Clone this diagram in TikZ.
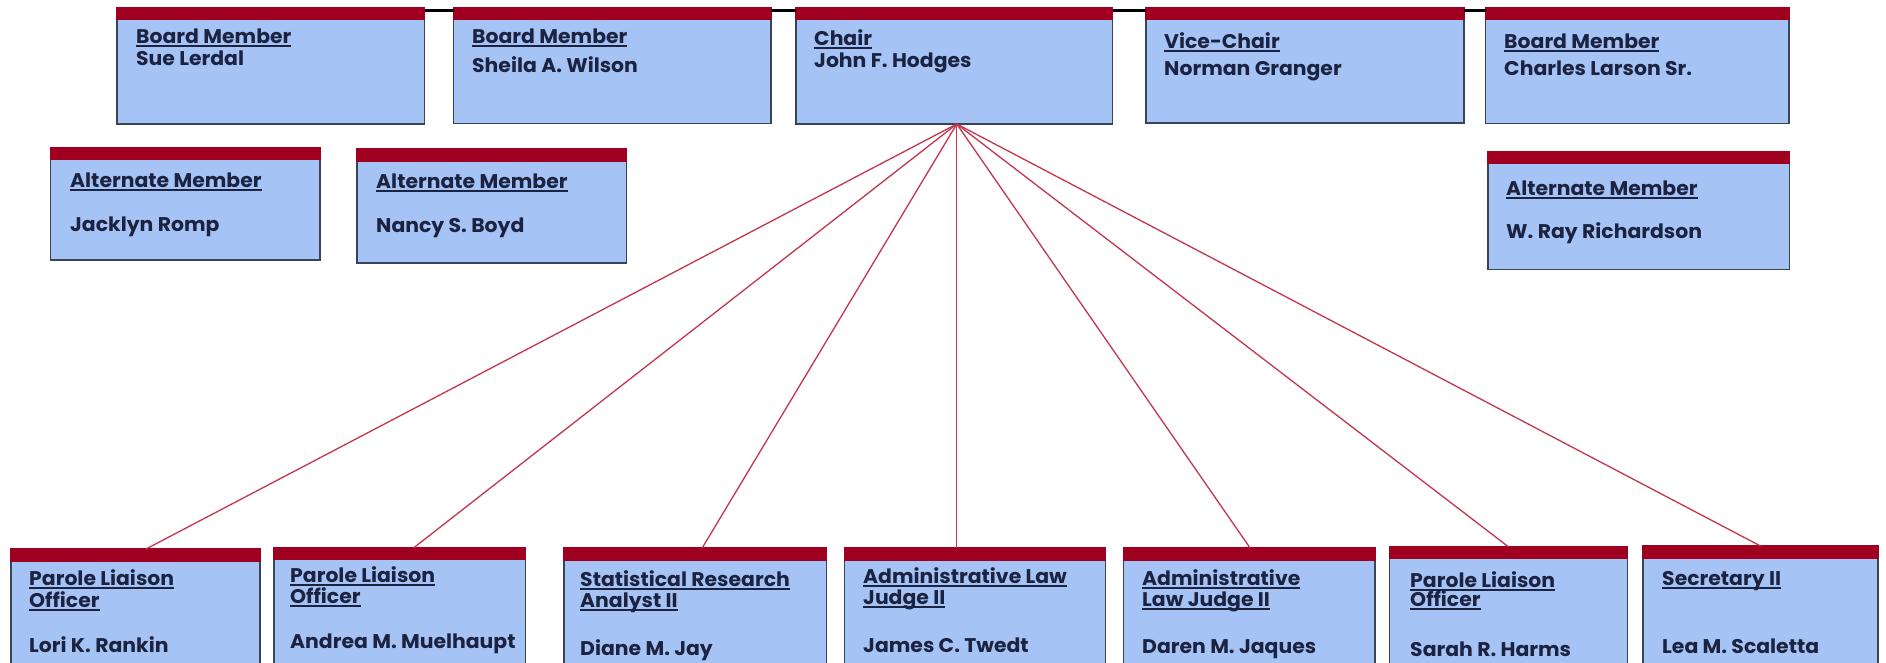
\documentclass[tikz,border=0pt]{standalone}
\usepackage{fontspec}
\setmainfont{Poppins}[FakeStretch=1.03]
\usetikzlibrary{calc}
\definecolor{boxfill}{HTML}{A6C3F5}
\definecolor{bandred}{HTML}{A0001F}
\definecolor{boxline}{HTML}{394457}
\definecolor{linkred}{HTML}{C3364F}
\definecolor{txtc}{HTML}{1C2340}
\newcommand{\ulx}[1]{\setbox0\hbox{#1}\rlap{\rule[-3.5pt]{\wd0}{1.6pt}}\box0}
\newcommand{\card}[5]{%
  \node[card, anchor=north west, minimum width={#4-#2}, minimum height={#5-#3}] (#1) at (#2,#3) {};
  \fill[bandred] ($(#1.north west)+(-0.7,-0.7)$) rectangle ($(#1.north east)+(0.7,12.5)$);}
\tikzset{
  card/.style={draw=boxline, fill=boxfill, line width=1.4pt, inner sep=0pt, outer sep=0pt, rectangle},
  ttl/.style={anchor=base west, inner sep=0pt, text=txtc, font=\fontsize{19.8}{23}\selectfont\bfseries},
  link/.style={draw=linkred, line width=1.3pt},
  topline/.style={draw=black, line width=3pt}
}
\begin{document}
\begin{tikzpicture}[x=1pt,y=-1pt]
\useasboundingbox (0,0) rectangle (1886,662);
\clip (0,0) rectangle (1886,662);
\fill[white] (0,0) rectangle (1886,662);
% top row
\card{t1}{117}{7.5}{424.5}{124}
\card{t2}{453.5}{7.5}{771}{123.5}
\card{t3}{796}{7.5}{1112.5}{124}
\card{t4}{1146}{7.5}{1464}{123}
\card{t5}{1485.5}{7.5}{1789}{123.5}
\draw[topline] ($(t1.north east)+(0,3)$) -- ($(t2.north west)+(0,3)$);
\draw[topline] ($(t2.north east)+(0,3)$) -- ($(t3.north west)+(0,3)$);
\draw[topline] ($(t3.north east)+(0,3)$) -- ($(t4.north west)+(0,3)$);
\draw[topline] ($(t4.north east)+(0,3)$) -- ($(t5.north west)+(0,3)$);
% alternates
\card{a1}{50.5}{147.3}{320}{260}
\card{a2}{357}{149}{626.5}{263}
\card{a3}{1488}{151.7}{1789.5}{269.5}
% bottom row
\card{c1}{10.8}{549}{260}{720}
\card{c2}{274}{547.7}{525.6}{720}
\card{c3}{564}{548}{826.3}{720}
\card{c4}{844.4}{548}{1105.4}{720}
\card{c5}{1123.4}{548}{1374.8}{720}
\card{c6}{1389.2}{546.7}{1627.4}{720}
\card{c7}{1643}{546}{1878}{720}
% connectors
\coordinate (apex) at ($(t3.south)+(2.5,0)$);
\draw[link] (apex) -- ($(c1.north)+(10.6,0)$);
\draw[link] (apex) -- ($(c2.north)+(14,0)$);
\draw[link] (apex) -- ($(c3.north)+(7,0)$);
\draw[link] (apex) -- (apex |- c4.north);
\draw[link] (apex) -- ($(c5.north)+(1,0)$);
\draw[link] (apex) -- (c6.north);
\draw[link] (apex) -- (c7.north);
% texts top row
\node[ttl] (t1a) at (136,43) {\ulx{Board Member}};
\node[ttl] (t1b) at (136,65) {Sue Lerdal};
\node[ttl] (t2a) at (472,43) {\ulx{Board Member}};
\node[ttl] (t2b) at (472,72) {Sheila A. Wilson};
\node[ttl] (t3a) at (814,45) {\ulx{Chair}};
\node[ttl] (t3b) at (814,67) {John F. Hodges};
\node[ttl] (t4a) at (1164,48) {\ulx{Vice-Chair}};
\node[ttl] (t4b) at (1164,75) {Norman Granger};
\node[ttl] (t5a) at (1504,48) {\ulx{Board Member}};
\node[ttl] (t5b) at (1504,75) {Charles Larson Sr.};
% alternates text
\node[ttl] (a1a) at (70,187) {\ulx{Alternate Member}};
\node[ttl] (a1b) at (70,231) {Jacklyn Romp};
\node[ttl] (a2a) at (376,188) {\ulx{Alternate Member}};
\node[ttl] (a2b) at (376,232) {Nancy S. Boyd};
\node[ttl] (a3a) at (1506,195) {\ulx{Alternate Member}};
\node[ttl] (a3b) at (1506,238) {W. Ray Richardson};
% bottom texts
\node[ttl] (c1a) at (29,585) {\ulx{Parole Liaison}};
\node[ttl] (c1b) at (29,607) {\ulx{Officer}};
\node[ttl] (c1c) at (29,652) {Lori K. Rankin};
\node[ttl] (c2a) at (290,582) {\ulx{Parole Liaison}};
\node[ttl] (c2b) at (290,603) {\ulx{Officer}};
\node[ttl] (c2c) at (290,648) {Andrea M. Muelhaupt};
\node[ttl] (c3a) at (580,586) {\ulx{Statistical Research}};
\node[ttl] (c3b) at (580,607) {\ulx{Analyst II}};
\node[ttl] (c3c) at (580,655) {Diane M. Jay};
\node[ttl] (c4a) at (863,583) {\ulx{Administrative Law}};
\node[ttl] (c4b) at (863,604) {\ulx{Judge II}};
\node[ttl] (c4c) at (863,652) {James C. Twedt};
\node[ttl] (c5a) at (1142,585) {\ulx{Administrative}};
\node[ttl] (c5b) at (1142,606) {\ulx{Law Judge II}};
\node[ttl] (c5c) at (1142,653) {Daren M. Jaques};
\node[ttl] (c6a) at (1410,587) {\ulx{Parole Liaison}};
\node[ttl] (c6b) at (1410,606) {\ulx{Officer}};
\node[ttl] (c6c) at (1410,656) {Sarah R. Harms};
\node[ttl] (c7a) at (1662,585) {\ulx{Secretary II}};
\node[ttl] (c7c) at (1662,653) {Lea M. Scaletta};
\end{tikzpicture}
\end{document}
